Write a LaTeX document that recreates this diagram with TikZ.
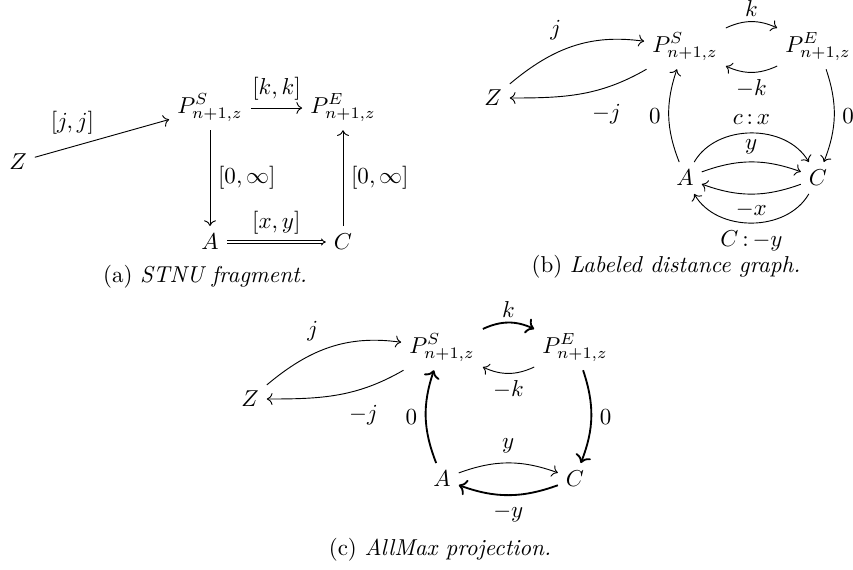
\documentclass[tikz,border=0pt]{standalone}
\usetikzlibrary{arrows.meta}
\begin{document}
\begin{tikzpicture}[x=0.4348pt,y=-0.4348pt,
  heavy/.style={thick},
  klbl/.style={above=-1.3pt},
  mklbl/.style={below=-0.5pt}]
\useasboundingbox (0,0) rectangle (853,569);
% (a) STNU fragment
\node (aZ) at (18,162) {$Z$};
\node (aPS) at (210,108) {$P^S_{n+1,z}$};
\node (aPE) at (343,108) {$P^E_{n+1,z}$};
\node (aA) at (210,242) {$A$};
\node (aC) at (343,242) {$C$};
\draw[->] (aZ) -- node[pos=0.28,above=2pt]{$[j,j]$} (aPS);
\draw[->] (aPS) -- node[above]{$[k,k]$} (aPE);
\draw[->] (aPS) -- node[right]{$[0,\infty]$} (aA);
\draw[->] (aC) -- node[right]{$[0,\infty]$} (aPE);
\draw[double,-{Implies}] (aA) -- node[above]{$[x,y]$} (aC);
\node (capa) at (205,277) {(a) \textit{STNU fragment.}};
% (b) Labeled distance graph
\node (bZ) at (493,98) {$Z$};
\node (bPS) at (685,47) {$P^S_{n+1,z}$};
\node (bPE) at (818,47) {$P^E_{n+1,z}$};
\node (bA) at (685,178) {$A$};
\node (bC) at (818,178) {$C$};
\draw[->] (bZ) to[out=40,in=172] node[pos=0.37,above=2pt]{$j$} (bPS);
\draw[->] (bPS) to[out=210,in=0] node[pos=0.3,below=4pt]{$-j$} (bZ);
\draw[->] (bPS) to[bend left=25] node[klbl]{$k$} (bPE);
\draw[->] (bPE) to[bend left=25] node[mklbl]{$-k$} (bPS);
\draw[->] (bA) to[bend left=20] node[left]{$0$} (bPS);
\draw[->] (bPE) to[bend left=20] node[right]{$0$} (bC);
\draw[->] (bA) to[bend left=60] node[above]{$c\,{:}\,x$} (bC);
\draw[->] (bA) to[bend left=20] node[above]{$y$} (bC);
\draw[->] (bC) to[bend left=20] node[below]{$-x$} (bA);
\draw[->] (bC) to[bend left=60] node[below]{$C\,{:}\,{-y}$} (bA);
\node (capb) at (666,267) {(b) \textit{Labeled distance graph.}};
% (c) AllMax projection
\node (cZ) at (250,399) {$Z$};
\node (cPS) at (442,348) {$P^S_{n+1,z}$};
\node (cPE) at (575,348) {$P^E_{n+1,z}$};
\node (cA) at (442,479) {$A$};
\node (cC) at (575,479) {$C$};
\draw[->] (cZ) to[out=40,in=172] node[pos=0.37,above=2pt]{$j$} (cPS);
\draw[->] (cPS) to[out=210,in=0] node[pos=0.3,below=4pt]{$-j$} (cZ);
\draw[->,heavy] (cPS) to[bend left=25] node[klbl]{$k$} (cPE);
\draw[->] (cPE) to[bend left=25] node[mklbl]{$-k$} (cPS);
\draw[->,heavy] (cA) to[bend left=20] node[left]{$0$} (cPS);
\draw[->,heavy] (cPE) to[bend left=20] node[right]{$0$} (cC);
\draw[->] (cA) to[bend left=20] node[above=1pt]{$y$} (cC);
\draw[->,heavy] (cC) to[bend left=20] node[below]{$-y$} (cA);
\node (capc) at (440,550) {(c) \textit{AllMax projection.}};
\end{tikzpicture}
\end{document}
